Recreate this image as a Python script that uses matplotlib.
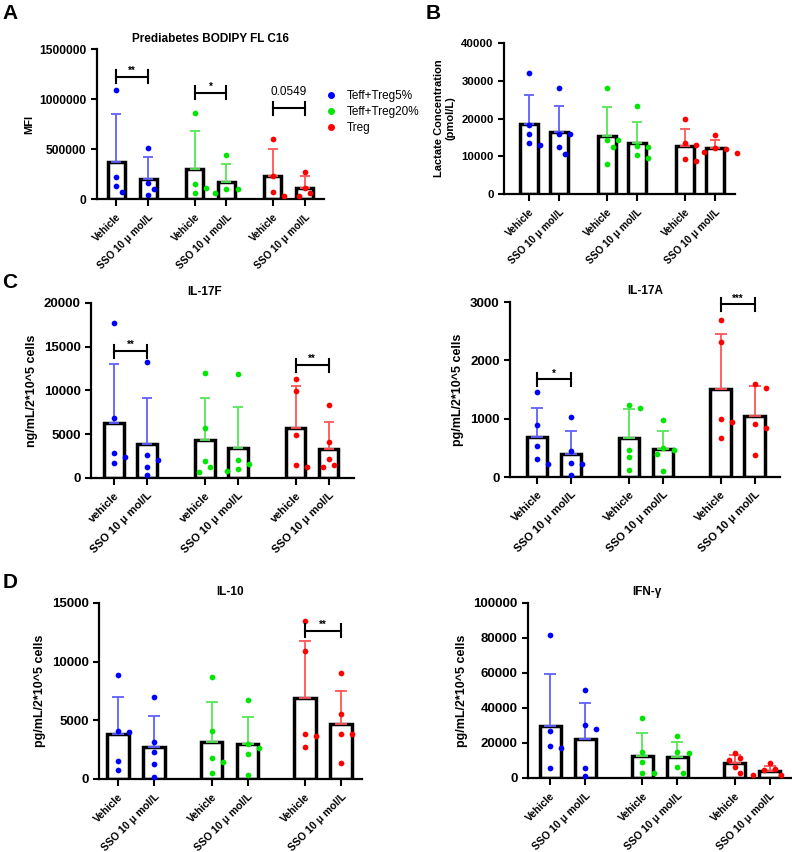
import matplotlib
matplotlib.use("Agg")
import matplotlib.pyplot as plt
from matplotlib.lines import Line2D

plt.rcParams['font.family'] = ['Liberation Sans', 'DejaVu Sans']
plt.rcParams['font.weight'] = 'bold'

# ---- dados ----
grupos = ["Teff+Treg5%", "Teff+Treg20%", "Treg"]
rotulos_v = ["Vehicle", "SSO 10 μ mol/L"] * 3
rotulos_c = ["vehicle", "SSO 10 μ mol/L"] * 3

a_media = [373000, 200000, 297000, 175000, 232000, 112000]
a_erro = [855000, 417000, 680000, 353000, 497000, 227000]
a_pontos = [[1090000, 220000, 135000, 75000], [515000, 160000, 100000, 45000],
            [865000, 155000, 110000, 60000], [445000, 105000, 100000, 60000],
            [600000, 235000, 75000, 30000], [275000, 110000, 60000, 35000]]

b_media = [18450, 16300, 15300, 13600, 12700, 12200]
b_erro = [26300, 23400, 23000, 19200, 17300, 14200]
b_pontos = [[32000, 18200, 16000, 13500, 13000], [28000, 15800, 15800, 12400, 10600],
            [28100, 14200, 14200, 12500, 8000], [23400, 12600, 12500, 10300, 9600],
            [19800, 13400, 13100, 9300, 8800], [15700, 12100, 12000, 11200, 10900]]

f_media = [6260, 3870, 4290, 3450, 5730, 3340]
f_erro = [13000, 9180, 9100, 8160, 10470, 6380]
f_pontos = [[17750, 6850, 2900, 2450, 1700], [13200, 2650, 2100, 1250, 350],
            [12000, 5700, 1950, 1250, 700], [11850, 2100, 1600, 1000, 850],
            [11300, 9950, 4950, 1450, 1250], [8300, 4100, 2200, 1450, 1200]]

il17a_media = [680, 400, 668, 480, 1514, 1040]
il17a_erro = [1183, 789, 1171, 789, 2451, 1554]
il17a_pontos = [[1450, 890, 530, 310, 230], [1030, 440, 240, 230, 40],
                [1240, 1180, 470, 340, 120], [970, 500, 460, 390, 110],
                [2700, 2320, 1000, 950, 670], [1590, 1530, 910, 840, 370]]

il10_media = [3810, 2700, 3190, 2960, 6860, 4670]
il10_erro = [7000, 5350, 6520, 5320, 11780, 7540]
il10_pontos = [[8850, 4100, 4000, 1550, 800], [6950, 3150, 2300, 1300, 200],
               [8650, 4100, 1750, 1450, 500], [6750, 2950, 2650, 2150, 350],
               [13500, 10900, 3850, 3650, 2750], [9050, 5550, 3850, 3800, 1350]]

ifn_media = [29500, 22500, 12400, 11800, 8400, 4200]
ifn_erro = [59600, 42900, 25700, 20400, 13000, 7000]
ifn_pontos = [[81500, 27000, 18500, 17000, 5500], [50000, 30000, 28000, 5500, 1000],
              [34000, 15000, 9000, 3000, 3000], [24000, 15000, 14000, 6500, 3000],
              [14500, 11500, 10500, 6000, 3000], [8500, 5000, 4500, 1800, 1800]]

# significância: (barra1, barra2, altura, texto)
a_sig = [(0, 1, 1223000, "**"), (2, 3, 1063000, "*"), (4, 5, 907000, "0.0549")]
f_sig = [(0, 1, 14500, "**"), (4, 5, 12900, "**")]
il17a_sig = [(0, 1, 1674, "*"), (4, 5, 2960, "***")]
il10_sig = [(4, 5, 12640, "**")]

cores_ponto = ['#0000ff', '#00e600', '#ff0000']
cores_erro = ['#6060ff', '#55e655', '#ff5555']

DPI = 100
fig = plt.figure(figsize=(7.92, 8.52), dpi=DPI)


def espalhar(valores, ppx, ppy, diam=7.5):
    # posições tipo "beeswarm" para os pontos não se sobreporem
    colocados = []
    desloc = []
    for v in valores:
        k = 0
        escolhido = None
        while escolhido is None:
            cands = [0] if k == 0 else [k, -k]
            for c in cands:
                dx = c * diam * 0.75
                if all((dx - px) ** 2 + ((v - pv) * ppy) ** 2 >= diam ** 2 for px, pv in colocados):
                    escolhido = dx
                    break
            k += 1
        colocados.append((escolhido, v))
        desloc.append(escolhido / ppx)
    return desloc


def painel(ret, medias, erros, pontos, ymax, ndiv, passo, xlim, rotulos, ylabel,
           titulo=None, titulo_x=0.5, sig=(), largura=0.55, fs_y=9.5, fs_x=8, fs_lab=9):
    ax = fig.add_axes(ret)
    xs = []
    for g in range(3):
        xs += [g * (2 + passo), g * (2 + passo) + 1]
    ax.set_xlim(*xlim)
    ax.set_ylim(0, ymax)
    larg_px = ret[2] * 792
    alt_px = ret[3] * 852
    ppx = larg_px / (xlim[1] - xlim[0])
    ppy = alt_px / ymax

    for i, x in enumerate(xs):
        g = i // 2
        ax.bar(x, medias[i], width=largura, color='white', edgecolor='black',
               linewidth=2.5, zorder=2)
        ax.errorbar(x, medias[i], yerr=[[0], [erros[i] - medias[i]]], fmt='none',
                    ecolor=cores_erro[g], elinewidth=1.3, capsize=largura * ppx * 0.2,
                    capthick=1.3, zorder=3)
        offs = espalhar(pontos[i], ppx, ppy)
        ax.scatter([x + o for o in offs], pontos[i], s=17, color=cores_ponto[g],
                   zorder=4, linewidths=0, clip_on=False)

    for b1, b2, h, txt in sig:
        tick = 6.5 / ppy
        ax.plot([xs[b1], xs[b2]], [h, h], color='black', lw=1.5, clip_on=False, zorder=5)
        for xb in (xs[b1], xs[b2]):
            ax.plot([xb, xb], [h - tick, h + tick], color='black', lw=1.5,
                    clip_on=False, zorder=5)
        if txt.startswith('0'):
            ax.text((xs[b1] + xs[b2]) / 2, h + 10 / ppy, txt, ha='center', va='bottom',
                    fontsize=8.5, fontweight='normal')
        else:
            ax.text((xs[b1] + xs[b2]) / 2, h + 1 / ppy, txt, ha='center', va='bottom',
                    fontsize=7, fontweight='bold')

    for s in ['top', 'right']:
        ax.spines[s].set_visible(False)
    for s in ['left', 'bottom']:
        ax.spines[s].set_linewidth(1.6)
    ax.set_yticks([ymax * k / ndiv for k in range(ndiv + 1)])
    ax.yaxis.set_major_formatter(plt.FuncFormatter(lambda v, p: f"{int(round(v))}"))
    ax.set_xticks(xs)
    ax.set_xticklabels(rotulos, rotation=45, ha='right', rotation_mode='anchor',
                       fontsize=fs_x, fontweight='bold')
    ax.tick_params(axis='both', width=1.5, length=4)
    ax.tick_params(axis='y', labelsize=fs_y)
    ax.tick_params(axis='x', length=5, pad=4)
    ax.set_ylabel(ylabel, fontsize=fs_lab, fontweight='bold')
    if titulo:
        ax.text(titulo_x, 1.03, titulo, transform=ax.transAxes, ha='center',
                va='bottom', fontsize=8.5, fontweight='bold')
    return ax


# A
ax_a = painel([0.1225, 0.7664, 0.2866, 0.176], a_media, a_erro, a_pontos, 1500000, 3,
              0.45, (-0.6, 6.5), rotulos_v, "MFI", "Prediabetes BODIPY FL C16",
              sig=a_sig, largura=0.53, fs_y=8.7, fs_x=7.2, fs_lab=8)
legenda = [Line2D([0], [0], marker='o', ls='none', color=c, markersize=4) for c in cores_ponto]
ax_a.legend(legenda, grupos, loc='upper left', bbox_to_anchor=(0.93, 0.8), frameon=False,
            prop={'size': 8.5, 'weight': 'normal'}, handletextpad=0.4, labelspacing=0.35)

# B
painel([0.6364, 0.7723, 0.2917, 0.1772], b_media, b_erro, b_pontos, 40000, 4,
       0.6, (-0.83, 6.87), rotulos_v, "Lactate Concentration\n(pmol/L)", largura=0.62,
       fs_y=8.2, fs_x=7.2, fs_lab=8)

# C
painel([0.1149, 0.439, 0.332, 0.2054], f_media, f_erro, f_pontos, 20000, 4,
       0.75, (-0.7, 7.27), rotulos_c, "ng/mL/2*10^5 cells", "IL-17F", titulo_x=0.43,
       sig=f_sig, largura=0.6)
painel([0.644, 0.4401, 0.341, 0.2054], il17a_media, il17a_erro, il17a_pontos, 3000, 3,
       0.7, (-0.8, 7.15), rotulos_v, "pg/mL/2*10^5 cells", "IL-17A", sig=il17a_sig,
       largura=0.6)

# D
painel([0.125, 0.0857, 0.332, 0.2066], il10_media, il10_erro, il10_pontos, 15000, 3,
       0.6, (-0.53, 6.78), rotulos_v, "pg/mL/2*10^5 cells", "IL-10", sig=il10_sig,
       largura=0.6, fs_x=7.6)
painel([0.6667, 0.0869, 0.3333, 0.2054], ifn_media, ifn_erro, ifn_pontos, 100000, 5,
       0.63, (-0.63, 6.9), rotulos_v, "pg/mL/2*10^5 cells", "IFN-γ", titulo_x=0.45,
       largura=0.6, fs_x=7.6)

# letras dos painéis
for letra, x, y in [("A", 0.0, 0.995), ("B", 0.535, 0.995), ("C", 0.0, 0.68), ("D", 0.0, 0.327)]:
    fig.text(x + 0.003, y, letra, fontsize=15, fontweight='bold', va='top', ha='left')

fig.savefig("out.png", dpi=DPI)
